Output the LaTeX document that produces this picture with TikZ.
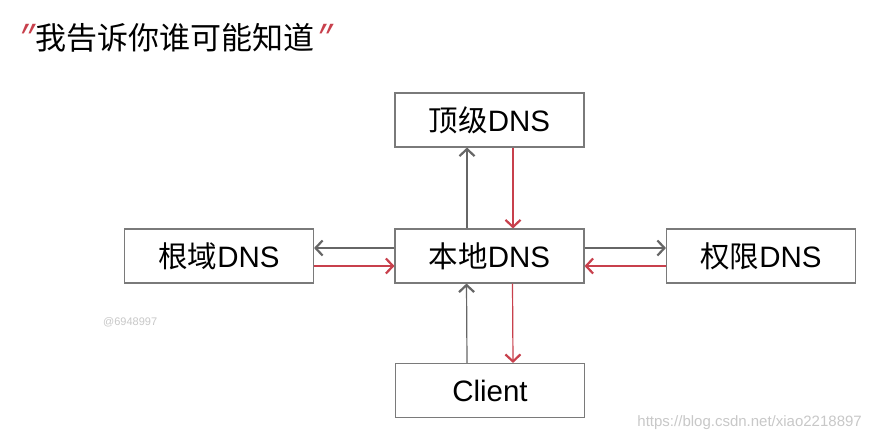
\documentclass[tikz,border=0pt]{standalone}
\usepackage{fontspec}
\setmainfont{Liberation Sans}
\newfontfamily\cjk{Noto Sans CJK SC}
\usetikzlibrary{arrows.meta}
\definecolor{boxgray}{HTML}{7A7A7A}
\definecolor{arrgray}{HTML}{666666}
\definecolor{arrred}{HTML}{C8404C}
\definecolor{wmgray}{HTML}{C8C8C8}
\tikzset{
  dnsbox/.style={draw=boxgray, line width=1.1pt, minimum width=189pt, minimum height=54pt, inner sep=0pt, font=\fontsize{29.5}{34}\selectfont},
  garrow/.style={draw=arrgray, line width=1.2pt, -{Straight Barb[length=7pt,width=15pt,line width=2.2pt]}},
  rarrow/.style={draw=arrred, line width=1.2pt, -{Straight Barb[length=7pt,width=15pt,line width=2.2pt]}},
  wm/.style={text=wmgray, inner sep=0pt}
}
\begin{document}
\begin{tikzpicture}[x=1pt,y=-1pt]
\useasboundingbox (0,0) rectangle (872,441);
\fill[white] (0,0) rectangle (872,441);
\node[anchor=west, inner sep=0pt, font=\fontsize{31}{36}\selectfont] (title) at (17,38)
  {\textcolor{arrred}{\itshape ״}{\cjk 我告诉你谁可能知道}\textcolor{arrred}{\itshape ״}};
\node[dnsbox] (top) at (489.5,120) {{\cjk 顶级}DNS};
\node[dnsbox] (local) at (489.5,256) {{\cjk 本地}DNS};
\node[dnsbox] (root) at (219,256) {{\cjk 根域}DNS};
\node[dnsbox] (auth) at (761,256) {{\cjk 权限}DNS};
\node[dnsbox] (client) at (490,390.5) {Client};
% vertical
\draw[garrow] ([xshift=-22.5pt]local.north) -- ([xshift=-22.5pt]top.south);
\draw[rarrow] ([xshift=23.5pt]top.south) -- ([xshift=23.5pt]local.north);
\draw[garrow] ([xshift=-23pt]client.north) -- ([xshift=-23pt]local.south);
\draw[rarrow] ([xshift=23pt]local.south) -- ([xshift=23pt]client.north);
% horizontal
\draw[garrow] ([yshift=8pt]local.west) -- ([yshift=8pt]local.west -| root.east);
\draw[rarrow] ([yshift=-10pt]root.east) -- ([yshift=-10pt]root.east -| local.west);
\draw[garrow] ([yshift=8pt]local.east) -- ([yshift=8pt]local.east -| auth.west);
\draw[rarrow] ([yshift=-10pt]auth.west) -- ([yshift=-10pt]auth.west -| local.east);
% watermarks
\node[wm, anchor=west, font=\fontsize{11}{13}\selectfont] (wm1) at (103,322) {@6948997};
\node[wm, anchor=east, font=\fontsize{15}{18}\selectfont] (wm2) at (862,423) {https://blog.csdn.net/xiao2218897};
\end{tikzpicture}
\end{document}
